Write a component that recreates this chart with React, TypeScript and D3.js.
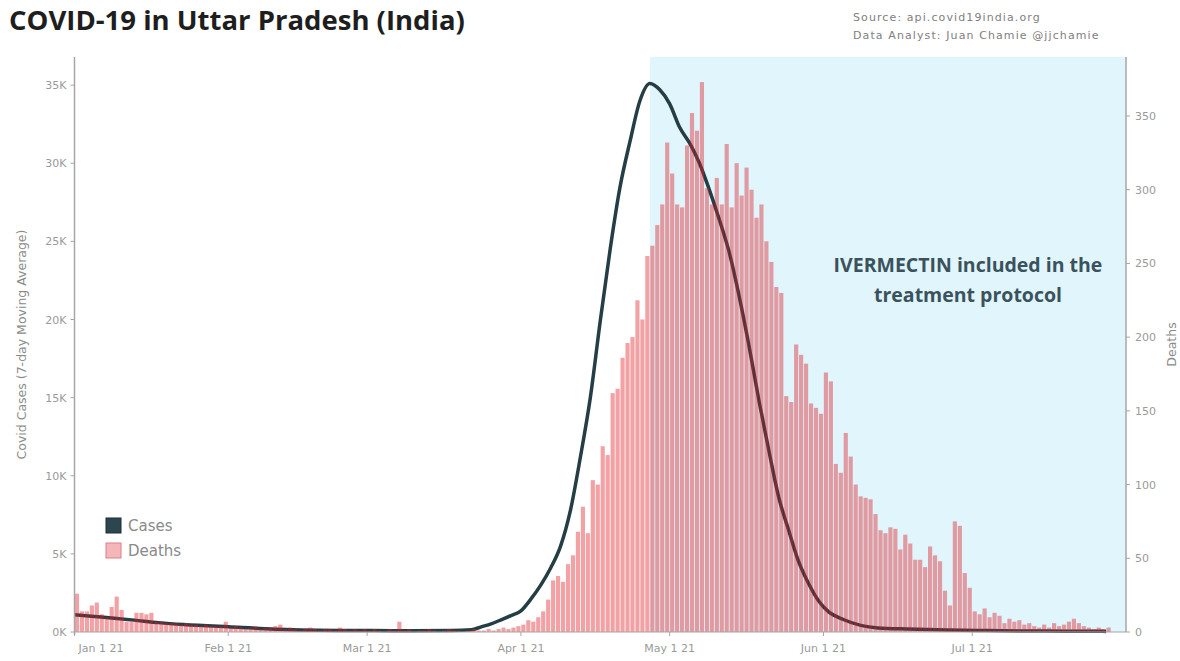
import React, { useRef, useEffect } from "react";
import * as d3 from "d3";

// daily deaths, Jan 1 2021 -> Jul 28 2021
const deathsJan = [26, 14, 14, 18, 20, 12, 10, 17, 24, 15, 7, 7, 13, 13, 12, 13, 7, 7, 6, 6, 6, 5, 6, 5, 5, 4, 5, 4, 4, 4, 7];
const deathsFeb = [3, 4, 3, 2, 3, 4, 2, 3, 3, 4, 5, 2, 3, 2, 1, 2, 3, 2, 1, 2, 2, 1, 3, 2, 1, 2, 1, 2];
const deathsMar = [1, 2, 1, 0, 2, 1, 7, 1, 2, 0, 1, 1, 2, 1, 0, 1, 2, 1, 1, 0, 1, 2, 1, 1, 2, 1, 2, 3, 2, 3, 4];
const deathsApr = [5, 8, 7, 10, 14, 22, 35, 38, 34, 46, 52, 68, 85, 67, 103, 100, 126, 120, 162, 165, 186, 196, 200, 225, 212, 255, 262, 276, 290, 332];
const deathsMay = [311, 290, 288, 330, 352, 340, 373, 301, 290, 308, 290, 331, 288, 318, 296, 315, 300, 281, 290, 265, 251, 234, 230, 160, 156, 195, 188, 182, 155, 152, 148];
const deathsJun = [176, 170, 114, 108, 135, 119, 100, 92, 91, 90, 80, 69, 67, 71, 70, 56, 66, 60, 49, 49, 44, 58, 52, 48, 28, 18, 75, 72, 40, 30];
const deathsJul = [14, 12, 16, 10, 13, 11, 6, 9, 7, 8, 5, 6, 4, 3, 5, 3, 6, 4, 5, 7, 9, 6, 4, 3, 2, 3, 2, 3];

// cases, 7-day moving average (day offset from Jan 1, value)
const caseDays = [0, 4, 8, 12, 17, 22, 31, 44, 60, 68, 76, 80, 82, 84, 86, 88, 90, 92, 94, 96, 98, 100, 102, 104, 106, 108, 110, 112, 114, 116, 118, 120, 122, 124, 126, 128, 130, 132, 134, 136, 138, 140, 142, 144, 146, 148, 150, 152, 155, 162, 168, 176, 184, 192, 200, 208];
const caseValues = [1100, 990, 880, 760, 600, 480, 330, 150, 90, 85, 95, 140, 330, 520, 780, 1050, 1350, 2100, 3000, 4100, 5500, 7800, 11200, 15000, 19900, 24500, 28500, 31400, 34000, 35100, 34700, 33800, 32300, 31300, 30000, 28300, 26400, 24300, 21500, 18300, 14800, 11600, 8600, 6500, 4500, 3100, 2000, 1300, 800, 260, 190, 130, 90, 65, 50, 40];

const monthLabels = ["Jan 1 21", "Feb 1 21", "Mar 1 21", "Apr 1 21", "May 1 21", "Jun 1 21", "Jul 1 21"];
const caseTicks = [0, 5000, 10000, 15000, 20000, 25000, 30000, 35000];
const caseTickLabels = ["0K", "5K", "10K", "15K", "20K", "25K", "30K", "35K"];
const deathTicks = [0, 50, 100, 150, 200, 250, 300, 350];
const protocolStartDay = 116; // Apr 27

const App = () => {
  const ref = useRef<SVGSVGElement>(null);

  useEffect(() => {
    document.body.style.margin = "0";
    const svg = d3.select(ref.current);
    svg.selectAll("*").remove();

    const left = 74.5, right = 1126, top = 57, bottom = 632;
    const font = "'Open Sans', 'Noto Sans', sans-serif";
    const small = "'DejaVu Sans', sans-serif";
    const t0 = new Date(2021, 0, 1);
    const day = (i: number) => d3.timeDay.offset(t0, i);

    const deaths = [...deathsJan, ...deathsFeb, ...deathsMar, ...deathsApr, ...deathsMay, ...deathsJun, ...deathsJul];

    const x = d3.scaleTime().domain([t0, new Date(2021, 7, 1)]).range([left, right]);
    const yC = d3.scaleLinear().domain([0, 36800]).range([bottom, top]);
    const yD = d3.scaleLinear().domain([0, 390]).range([bottom, top]);

    // protocol shading
    svg
      .append("rect")
      .attr("x", x(day(protocolStartDay)))
      .attr("y", top)
      .attr("width", right - x(day(protocolStartDay)))
      .attr("height", bottom - top)
      .attr("fill", "#e1f5fc");

    // cases line (drawn under the bars)
    const line = d3
      .line<number>()
      .x((d, i) => x(day(caseDays[i])))
      .y((d) => yC(d))
      .curve(d3.curveMonotoneX);
    svg
      .append("path")
      .attr("d", line(caseValues))
      .attr("fill", "none")
      .attr("stroke", "#253d45")
      .attr("stroke-width", 3.5)
      .attr("stroke-linejoin", "round");

    // deaths bars
    svg
      .append("g")
      .selectAll("rect")
      .data(deaths)
      .enter()
      .append("rect")
      .attr("x", (d, i) => x(day(i)) + 0.4)
      .attr("width", (d, i) => x(day(i + 1)) - x(day(i)) - 0.8)
      .attr("y", (d) => yD(d))
      .attr("height", (d) => bottom - yD(d))
      .attr("fill", "#e01f26")
      .attr("fill-opacity", 0.42);

    const axisColor = "#a6a6a6";
    const labelColor = "#9a9a9a";

    // left axis
    const gl = svg.append("g").attr("transform", `translate(${left},0)`);
    gl.append("line").attr("y1", top).attr("y2", bottom + 3).attr("stroke", axisColor).attr("stroke-width", 1.5);
    caseTicks.forEach((t, i) => {
      gl.append("line").attr("x1", -4).attr("x2", 0).attr("y1", yC(t)).attr("y2", yC(t)).attr("stroke", axisColor);
      gl.append("text")
        .attr("x", -8)
        .attr("y", yC(t) + 4)
        .attr("text-anchor", "end")
        .style("font-family", small)
        .style("font-size", "11px")
        .style("fill", labelColor)
        .text(caseTickLabels[i]);
    });
    svg
      .append("text")
      .attr("transform", `translate(26,${(top + bottom) / 2}) rotate(-90)`)
      .attr("text-anchor", "middle")
      .style("font-family", small)
      .style("font-size", "12.5px")
      .style("fill", "#8a8a8a")
      .text("Covid Cases (7-day Moving Average)");

    // right axis
    const gr = svg.append("g").attr("transform", `translate(${right},0)`);
    gr.append("line").attr("y1", top).attr("y2", bottom).attr("stroke", axisColor).attr("stroke-width", 1.5);
    deathTicks.forEach((t) => {
      gr.append("line").attr("x1", 0).attr("x2", 4).attr("y1", yD(t)).attr("y2", yD(t)).attr("stroke", axisColor);
      gr.append("text")
        .attr("x", 9)
        .attr("y", yD(t) + 4)
        .style("font-family", small)
        .style("font-size", "11px")
        .style("fill", labelColor)
        .text(t);
    });
    svg
      .append("text")
      .attr("transform", `translate(1176,${(top + bottom) / 2}) rotate(-90)`)
      .attr("text-anchor", "middle")
      .style("font-family", small)
      .style("font-size", "12.5px")
      .style("fill", "#8a8a8a")
      .text("Deaths");

    // bottom axis
    const gb = svg.append("g").attr("transform", `translate(0,${bottom})`);
    gb.append("line").attr("x1", left).attr("x2", right).attr("stroke", axisColor).attr("stroke-width", 1.2);
    const months = d3.timeMonth.range(t0, new Date(2021, 6, 2));
    months.forEach((m, i) => {
      gb.append("line").attr("x1", x(m)).attr("x2", x(m)).attr("y1", 0).attr("y2", 4).attr("stroke", axisColor);
      gb.append("text")
        .attr("x", i === 0 ? x(m) + 4 : x(m))
        .attr("y", 20)
        .attr("text-anchor", i === 0 ? "start" : "middle")
        .style("font-family", small)
        .style("font-size", "11px")
        .style("fill", labelColor)
        .text(monthLabels[i]);
    });

    // legend
    const legend = svg.append("g").attr("transform", "translate(106,518)");
    legend.append("rect").attr("width", 15).attr("height", 15).attr("fill", "#2c4650").attr("stroke", "#1c2c33");
    legend.append("rect").attr("y", 25).attr("width", 15).attr("height", 15).attr("fill", "#f5b6ba").attr("stroke", "#e07f86");
    legend.append("text").attr("x", 22).attr("y", 13).style("font-family", small).style("font-size", "15px").style("fill", "#8a8a8a").text("Cases");
    legend.append("text").attr("x", 22).attr("y", 38).style("font-family", small).style("font-size", "15px").style("fill", "#8a8a8a").text("Deaths");

    // annotation
    const note = svg.append("text").attr("text-anchor", "middle").style("font-family", font).style("font-size", "19.5px").style("font-weight", "bold").style("fill", "#3a525c");
    note.append("tspan").attr("x", 968).attr("y", 272).text("IVERMECTIN included in the");
    note.append("tspan").attr("x", 968).attr("y", 302).text("treatment protocol");

    // title and source
    svg.append("text").attr("x", 9).attr("y", 30).style("font-family", font).style("font-size", "27.5px").style("font-weight", "bold").style("fill", "#1e1e1e").text("COVID-19 in Uttar Pradesh (India)");
    svg.append("text").attr("x", 853).attr("y", 21).style("font-family", small).style("font-size", "11px").style("letter-spacing", "1.1px").style("fill", "#808080").text("Source: api.covid19india.org");
    svg.append("text").attr("x", 853).attr("y", 39).style("font-family", small).style("font-size", "11px").style("letter-spacing", "1.1px").style("fill", "#808080").text("Data Analyst:  Juan Chamie @jjchamie");
  }, []);

  return <svg ref={ref} width={1180} height={661} style={{ display: "block" }} />;
};

export default App;
